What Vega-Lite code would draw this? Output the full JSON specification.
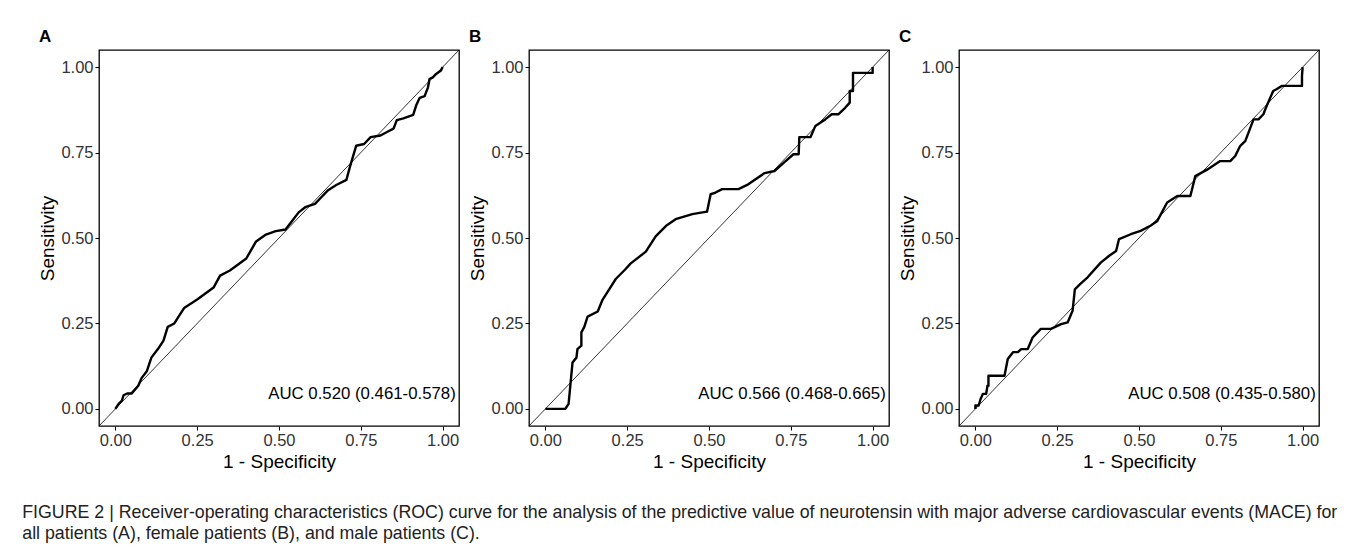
{
  "$schema": "https://vega.github.io/schema/vega-lite/v6.json",
  "background": "white",
  "padding": {"left": 22, "top": 27, "right": 5, "bottom": 5},
  "config": {
    "font": "Liberation Sans",
    "view": {"stroke": "black", "strokeWidth": 1.3},
    "axis": {
      "grid": false,
      "domain": false,
      "ticks": true,
      "tickColor": "black",
      "tickSize": 4,
      "tickWidth": 1,
      "labelFont": "Liberation Sans",
      "labelFontSize": 16.5,
      "labelColor": "#333333",
      "labelPadding": 2,
      "titleFont": "Liberation Sans",
      "titleFontSize": 19,
      "titleFontWeight": "normal",
      "titleColor": "black"
    },
    "title": {"font": "Liberation Sans"}
  },
  "datasets": {
    "diag": [{"fpr": -0.05, "tpr": -0.05}, {"fpr": 1.05, "tpr": 1.05}],
    "A": [
      {"fpr": 0.0, "tpr": 0.0}, {"fpr": 0.01, "tpr": 0.015}, {"fpr": 0.02, "tpr": 0.024}, {"fpr": 0.025, "tpr": 0.04},
      {"fpr": 0.036, "tpr": 0.045}, {"fpr": 0.05, "tpr": 0.045}, {"fpr": 0.07, "tpr": 0.068}, {"fpr": 0.08, "tpr": 0.09},
      {"fpr": 0.096, "tpr": 0.11}, {"fpr": 0.11, "tpr": 0.15}, {"fpr": 0.13, "tpr": 0.175}, {"fpr": 0.147, "tpr": 0.2},
      {"fpr": 0.16, "tpr": 0.24}, {"fpr": 0.18, "tpr": 0.25}, {"fpr": 0.2, "tpr": 0.28}, {"fpr": 0.21, "tpr": 0.295},
      {"fpr": 0.25, "tpr": 0.32}, {"fpr": 0.3, "tpr": 0.355}, {"fpr": 0.32, "tpr": 0.39}, {"fpr": 0.35, "tpr": 0.405},
      {"fpr": 0.4, "tpr": 0.44}, {"fpr": 0.43, "tpr": 0.49}, {"fpr": 0.46, "tpr": 0.51}, {"fpr": 0.49, "tpr": 0.52},
      {"fpr": 0.52, "tpr": 0.525}, {"fpr": 0.54, "tpr": 0.55}, {"fpr": 0.56, "tpr": 0.575}, {"fpr": 0.58, "tpr": 0.59},
      {"fpr": 0.61, "tpr": 0.6}, {"fpr": 0.63, "tpr": 0.62}, {"fpr": 0.65, "tpr": 0.64}, {"fpr": 0.675, "tpr": 0.655},
      {"fpr": 0.706, "tpr": 0.67}, {"fpr": 0.716, "tpr": 0.706}, {"fpr": 0.736, "tpr": 0.77}, {"fpr": 0.76, "tpr": 0.775},
      {"fpr": 0.78, "tpr": 0.795}, {"fpr": 0.81, "tpr": 0.8}, {"fpr": 0.83, "tpr": 0.81}, {"fpr": 0.85, "tpr": 0.82},
      {"fpr": 0.86, "tpr": 0.845}, {"fpr": 0.88, "tpr": 0.85}, {"fpr": 0.91, "tpr": 0.86}, {"fpr": 0.92, "tpr": 0.89},
      {"fpr": 0.93, "tpr": 0.91}, {"fpr": 0.945, "tpr": 0.915}, {"fpr": 0.955, "tpr": 0.94}, {"fpr": 0.96, "tpr": 0.965},
      {"fpr": 0.97, "tpr": 0.97}, {"fpr": 0.98, "tpr": 0.98}, {"fpr": 0.995, "tpr": 0.99}, {"fpr": 1.0, "tpr": 1.0}
    ],
    "B": [
      {"fpr": 0.0, "tpr": 0.0}, {"fpr": 0.061, "tpr": 0.0}, {"fpr": 0.071, "tpr": 0.015}, {"fpr": 0.083, "tpr": 0.136},
      {"fpr": 0.095, "tpr": 0.15}, {"fpr": 0.098, "tpr": 0.175}, {"fpr": 0.11, "tpr": 0.185}, {"fpr": 0.11, "tpr": 0.224},
      {"fpr": 0.119, "tpr": 0.24}, {"fpr": 0.129, "tpr": 0.27}, {"fpr": 0.16, "tpr": 0.285}, {"fpr": 0.175, "tpr": 0.32},
      {"fpr": 0.195, "tpr": 0.35}, {"fpr": 0.215, "tpr": 0.38}, {"fpr": 0.246, "tpr": 0.41}, {"fpr": 0.26, "tpr": 0.425},
      {"fpr": 0.307, "tpr": 0.46}, {"fpr": 0.337, "tpr": 0.505}, {"fpr": 0.368, "tpr": 0.535}, {"fpr": 0.398, "tpr": 0.555},
      {"fpr": 0.449, "tpr": 0.57}, {"fpr": 0.494, "tpr": 0.577}, {"fpr": 0.505, "tpr": 0.628}, {"fpr": 0.52, "tpr": 0.633},
      {"fpr": 0.54, "tpr": 0.643}, {"fpr": 0.59, "tpr": 0.643}, {"fpr": 0.62, "tpr": 0.657}, {"fpr": 0.67, "tpr": 0.69},
      {"fpr": 0.7, "tpr": 0.696}, {"fpr": 0.728, "tpr": 0.72}, {"fpr": 0.758, "tpr": 0.745}, {"fpr": 0.774, "tpr": 0.745},
      {"fpr": 0.776, "tpr": 0.795}, {"fpr": 0.81, "tpr": 0.795}, {"fpr": 0.825, "tpr": 0.828}, {"fpr": 0.855, "tpr": 0.847},
      {"fpr": 0.875, "tpr": 0.862}, {"fpr": 0.895, "tpr": 0.862}, {"fpr": 0.916, "tpr": 0.881}, {"fpr": 0.93, "tpr": 0.896},
      {"fpr": 0.93, "tpr": 0.93}, {"fpr": 0.94, "tpr": 0.93}, {"fpr": 0.94, "tpr": 0.983}, {"fpr": 1.0, "tpr": 0.983},
      {"fpr": 1.0, "tpr": 1.0}
    ],
    "C": [
      {"fpr": 0.0, "tpr": 0.0}, {"fpr": 0.0, "tpr": 0.01}, {"fpr": 0.01, "tpr": 0.01}, {"fpr": 0.016, "tpr": 0.029},
      {"fpr": 0.023, "tpr": 0.044}, {"fpr": 0.033, "tpr": 0.044}, {"fpr": 0.037, "tpr": 0.068}, {"fpr": 0.04, "tpr": 0.068},
      {"fpr": 0.04, "tpr": 0.097}, {"fpr": 0.089, "tpr": 0.097}, {"fpr": 0.099, "tpr": 0.146}, {"fpr": 0.115, "tpr": 0.166},
      {"fpr": 0.13, "tpr": 0.166}, {"fpr": 0.14, "tpr": 0.175}, {"fpr": 0.16, "tpr": 0.175}, {"fpr": 0.175, "tpr": 0.209},
      {"fpr": 0.2, "tpr": 0.234}, {"fpr": 0.231, "tpr": 0.234}, {"fpr": 0.262, "tpr": 0.248}, {"fpr": 0.282, "tpr": 0.253},
      {"fpr": 0.297, "tpr": 0.287}, {"fpr": 0.304, "tpr": 0.35}, {"fpr": 0.32, "tpr": 0.365}, {"fpr": 0.343, "tpr": 0.385},
      {"fpr": 0.383, "tpr": 0.428}, {"fpr": 0.409, "tpr": 0.448}, {"fpr": 0.43, "tpr": 0.462}, {"fpr": 0.439, "tpr": 0.497},
      {"fpr": 0.475, "tpr": 0.511}, {"fpr": 0.505, "tpr": 0.521}, {"fpr": 0.535, "tpr": 0.536}, {"fpr": 0.556, "tpr": 0.55},
      {"fpr": 0.586, "tpr": 0.604}, {"fpr": 0.617, "tpr": 0.623}, {"fpr": 0.657, "tpr": 0.623}, {"fpr": 0.672, "tpr": 0.681},
      {"fpr": 0.708, "tpr": 0.7}, {"fpr": 0.748, "tpr": 0.725}, {"fpr": 0.779, "tpr": 0.725}, {"fpr": 0.794, "tpr": 0.74},
      {"fpr": 0.809, "tpr": 0.769}, {"fpr": 0.825, "tpr": 0.784}, {"fpr": 0.85, "tpr": 0.847}, {"fpr": 0.865, "tpr": 0.847},
      {"fpr": 0.88, "tpr": 0.862}, {"fpr": 0.89, "tpr": 0.886}, {"fpr": 0.91, "tpr": 0.93}, {"fpr": 0.92, "tpr": 0.935},
      {"fpr": 0.936, "tpr": 0.945}, {"fpr": 0.998, "tpr": 0.945}, {"fpr": 0.998, "tpr": 0.974}, {"fpr": 1.0, "tpr": 1.0}
    ]
  },
  "title": {
    "text": [
      "FIGURE 2 | Receiver-operating characteristics (ROC) curve for the analysis of the predictive value of neurotensin with major adverse cardiovascular events (MACE) for",
      "all patients (A), female patients (B), and male patients (C)."
    ],
    "orient": "bottom",
    "anchor": "start",
    "frame": "bounds",
    "fontSize": 17.8,
    "fontWeight": "normal",
    "lineHeight": 21,
    "color": "#222222",
    "offset": 32,
    "dx": -16
  },
  "hconcat": [
    {
      "width": 360, "height": 376,
      "title": {"text": "A", "anchor": "start", "frame": "bounds", "fontSize": 17, "fontWeight": "bold", "color": "black", "offset": 2},
      "layer": [
        {"data": {"name": "diag"}, "mark": {"type": "line", "color": "black", "strokeWidth": 0.8},
         "encoding": {"x": {"field": "fpr", "type": "quantitative"}, "y": {"field": "tpr", "type": "quantitative"}}},
        {"data": {"name": "A"}, "mark": {"type": "line", "color": "black", "strokeWidth": 2.4, "strokeJoin": "round"},
         "encoding": {
           "x": {"field": "fpr", "type": "quantitative", "title": "1 - Specificity", "scale": {"domain": [-0.05, 1.05], "nice": false, "zero": false}, "axis": {"values": [0, 0.25, 0.5, 0.75, 1], "format": ".2f"}},
           "y": {"field": "tpr", "type": "quantitative", "title": "Sensitivity", "scale": {"domain": [-0.05, 1.05], "nice": false, "zero": false}, "axis": {"values": [0, 0.25, 0.5, 0.75, 1], "format": ".2f", "titlePadding": 3}},
           "order": {"value": null}
         }},
        {"data": {"values": [{"label": "AUC 0.520 (0.461-0.578)"}]}, "mark": {"type": "text", "align": "right", "baseline": "middle", "fontSize": 16.8, "color": "black"},
         "encoding": {"x": {"datum": 1.04}, "y": {"datum": 0.045}, "text": {"field": "label"}}}
      ]
    },
    {
      "width": 360, "height": 376,
      "title": {"text": "B", "anchor": "start", "frame": "bounds", "fontSize": 17, "fontWeight": "bold", "color": "black", "offset": 2},
      "layer": [
        {"data": {"name": "diag"}, "mark": {"type": "line", "color": "black", "strokeWidth": 0.8},
         "encoding": {"x": {"field": "fpr", "type": "quantitative"}, "y": {"field": "tpr", "type": "quantitative"}}},
        {"data": {"name": "B"}, "mark": {"type": "line", "color": "black", "strokeWidth": 2.4, "strokeJoin": "round"},
         "encoding": {
           "x": {"field": "fpr", "type": "quantitative", "title": "1 - Specificity", "scale": {"domain": [-0.05, 1.05], "nice": false, "zero": false}, "axis": {"values": [0, 0.25, 0.5, 0.75, 1], "format": ".2f"}},
           "y": {"field": "tpr", "type": "quantitative", "title": "Sensitivity", "scale": {"domain": [-0.05, 1.05], "nice": false, "zero": false}, "axis": {"values": [0, 0.25, 0.5, 0.75, 1], "format": ".2f", "titlePadding": 3}},
           "order": {"value": null}
         }},
        {"data": {"values": [{"label": "AUC 0.566 (0.468-0.665)"}]}, "mark": {"type": "text", "align": "right", "baseline": "middle", "fontSize": 16.8, "color": "black"},
         "encoding": {"x": {"datum": 1.04}, "y": {"datum": 0.045}, "text": {"field": "label"}}}
      ]
    },
    {
      "width": 360, "height": 376,
      "title": {"text": "C", "anchor": "start", "frame": "bounds", "fontSize": 17, "fontWeight": "bold", "color": "black", "offset": 2},
      "layer": [
        {"data": {"name": "diag"}, "mark": {"type": "line", "color": "black", "strokeWidth": 0.8},
         "encoding": {"x": {"field": "fpr", "type": "quantitative"}, "y": {"field": "tpr", "type": "quantitative"}}},
        {"data": {"name": "C"}, "mark": {"type": "line", "color": "black", "strokeWidth": 2.4, "strokeJoin": "round"},
         "encoding": {
           "x": {"field": "fpr", "type": "quantitative", "title": "1 - Specificity", "scale": {"domain": [-0.05, 1.05], "nice": false, "zero": false}, "axis": {"values": [0, 0.25, 0.5, 0.75, 1], "format": ".2f"}},
           "y": {"field": "tpr", "type": "quantitative", "title": "Sensitivity", "scale": {"domain": [-0.05, 1.05], "nice": false, "zero": false}, "axis": {"values": [0, 0.25, 0.5, 0.75, 1], "format": ".2f", "titlePadding": 3}},
           "order": {"value": null}
         }},
        {"data": {"values": [{"label": "AUC 0.508 (0.435-0.580)"}]}, "mark": {"type": "text", "align": "right", "baseline": "middle", "fontSize": 16.8, "color": "black"},
         "encoding": {"x": {"datum": 1.04}, "y": {"datum": 0.045}, "text": {"field": "label"}}}
      ]
    }
  ],
  "spacing": 6
}
